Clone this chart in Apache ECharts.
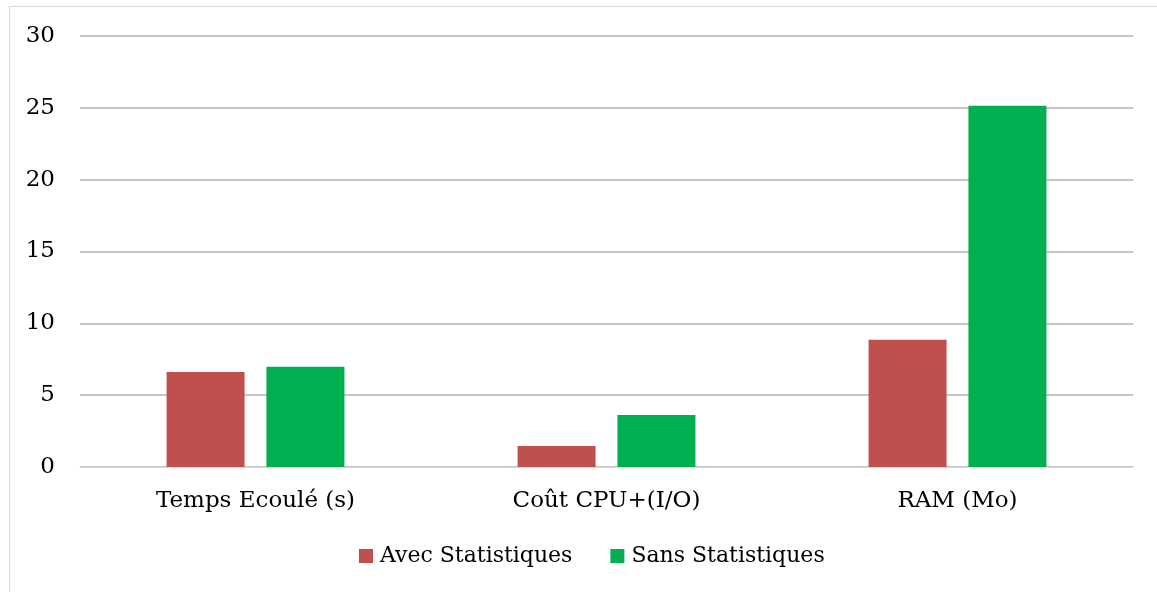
<!DOCTYPE html>
<html>
<head>
<meta charset="utf-8">
<script src="https://cdn.jsdelivr.net/npm/echarts@6/dist/echarts.min.js"></script>
<style>
  html, body { margin: 0; padding: 0; background: #fff; }
  #chart { width: 1157px; height: 592px; }
</style>
</head>
<body>
<div id="chart"></div>
<script>
const categories = ['Temps Ecoulé (s)', 'Coût CPU+(I/O)', 'RAM (Mo)'];
const avecStats = [6.62, 1.46, 8.85];
const sansStats = [6.98, 3.62, 25.15];
const yTicks = { min: 0, max: 30, interval: 5 };

const font = 'DejaVu Serif';
const chart = echarts.init(document.getElementById('chart'));

chart.setOption({
  animation: false,
  textStyle: { fontFamily: font },
  graphic: [
    {
      type: 'rect',
      shape: { x: 9.5, y: 6.5, width: 1160, height: 600 },
      style: { fill: 'none', stroke: '#d9d9d9', lineWidth: 1 },
      silent: true,
    },
  ],
  grid: {
    left: 80,
    right: 24,
    top: 36,
    bottom: 125,
  },
  legend: {
    data: ['Avec Statistiques', 'Sans Statistiques'],
    bottom: 20,
    left: 354,
    itemWidth: 14,
    itemHeight: 14,
    itemGap: 38,
    icon: 'rect',
    textStyle: { fontFamily: font, fontSize: 22, color: '#000', padding: [0, 0, 0, 2] },
  },
  xAxis: {
    type: 'category',
    data: categories,
    axisLine: { lineStyle: { color: '#d9d9d9', width: 1 } },
    axisTick: { show: false },
    axisLabel: { color: '#000', fontSize: 23, fontFamily: font, margin: 23 },
  },
  yAxis: {
    type: 'value',
    min: yTicks.min,
    max: yTicks.max,
    interval: yTicks.interval,
    axisLine: { show: false },
    axisTick: { show: false },
    splitLine: { lineStyle: { color: '#b3b3b3', width: 1.5 } },
    axisLabel: { color: '#000', fontSize: 23, fontFamily: font, margin: 25 },
  },
  series: [
    {
      name: 'Avec Statistiques',
      type: 'bar',
      data: avecStats,
      barWidth: 78,
      barGap: '28%',
      itemStyle: { color: '#c0504d' },
    },
    {
      name: 'Sans Statistiques',
      type: 'bar',
      data: sansStats,
      barWidth: 78,
      itemStyle: { color: '#00b050' },
    },
  ],
});
</script>
</body>
</html>
